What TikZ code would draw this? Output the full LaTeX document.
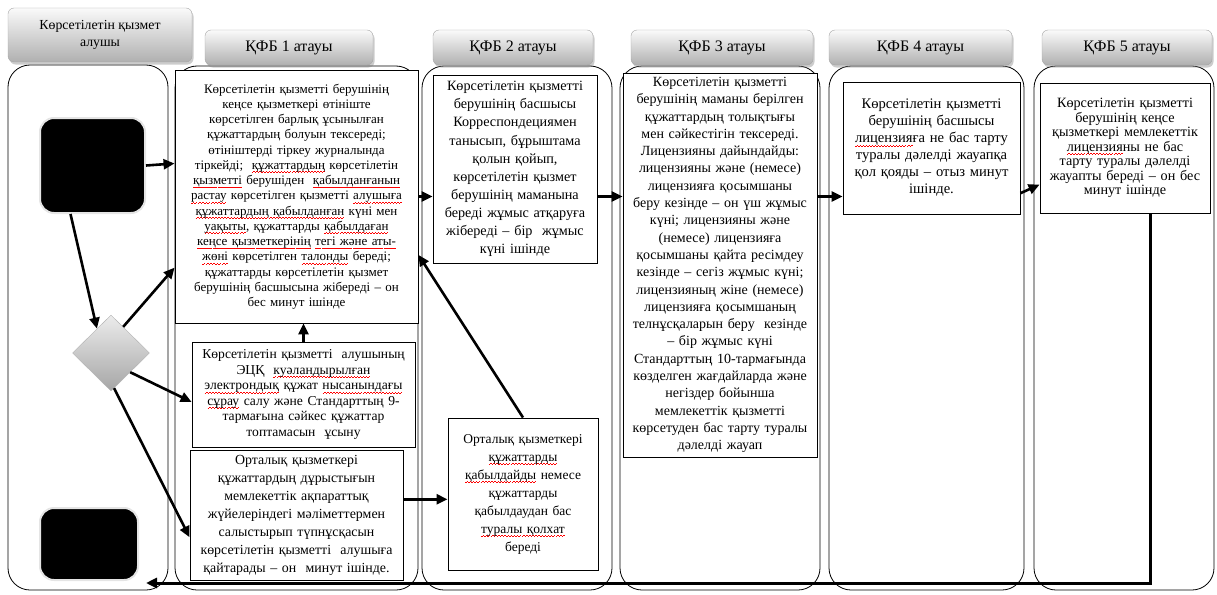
\documentclass[tikz,border=0pt]{standalone}
\usepackage{fontspec}
\setmainfont{Liberation Serif}
\usetikzlibrary{shapes.geometric,shadows,arrows.meta,calc}
% red spell-check wave under a word
\newcommand\rw[1]{\leavevmode\setbox0\hbox{#1}\rlap{\textcolor{red}{\hbox to \wd0{\xleaders\hbox to 3pt{\rule[-3.4pt]{1.5pt}{0.55pt}\rule[-2.6pt]{1.5pt}{0.55pt}}\hfill}}}\box0\relax}

\begin{document}
\begin{tikzpicture}[x=1pt,y=-1pt,
  hdr/.style={draw=gray!70,rounded corners=6pt,top color=gray!4,bottom color=gray!62,
    drop shadow={shadow xshift=1.5pt,shadow yshift=-2.5pt,opacity=0.4},
    align=center,inner sep=0pt,font=\fontsize{16}{18}\selectfont},
  lane/.style={draw,line width=0.8pt,rounded corners=22pt},
  box/.style={draw,line width=0.9pt,fill=white,align=center,inner sep=0pt},
  blk/.style={draw=gray!20,line width=2pt,fill=black,rounded corners=14pt},
  arr/.style={line width=2.6pt,-{Triangle[length=11pt,width=10pt]}}]
\useasboundingbox (0,0) rectangle (1217,594);

% lanes
\draw (88,327.5) node[lane,minimum width=160pt,minimum height=525pt](l0) {};
\draw (296.5,328) node[lane,minimum width=243pt,minimum height=524pt](l1) {};
\draw (517,328) node[lane,minimum width=190pt,minimum height=524pt](l2) {};
\draw (720,328) node[lane,minimum width=200pt,minimum height=524pt](l3) {};
\draw (926.5,328) node[lane,minimum width=195pt,minimum height=524pt](l4) {};
\draw (1124,328) node[lane,minimum width=180pt,minimum height=524pt](l5) {};

% headers
\draw (100,35) node[hdr,minimum width=184pt,minimum height=54pt,
  font=\fontsize{13.8}{17}\selectfont](h0) {Көрсетілетін қызмет\\алушы};
\draw (289,47.5) node[hdr,minimum width=168pt,minimum height=35pt](h1) {ҚФБ 1 атауы};
\draw (513,47.5) node[hdr,minimum width=160pt,minimum height=35pt](h2) {ҚФБ 2 атауы};
\draw (722,47.5) node[hdr,minimum width=182pt,minimum height=35pt](h3) {ҚФБ 3 атауы};
\draw (920.5,47.5) node[hdr,minimum width=183pt,minimum height=35pt](h4) {ҚФБ 4 атауы};
\draw (1127,47.5) node[hdr,minimum width=170pt,minimum height=35pt](h5) {ҚФБ 5 атауы};

% service receiver
\draw (92.5,165.5) node[blk,minimum width=105pt,minimum height=95pt](k1) {};
\draw (89,544) node[blk,minimum width=98pt,minimum height=72pt](k2) {};
\draw (111,353) node[diamond,draw=gray!60,top color=gray!15,bottom color=gray!70,
  inner sep=0pt,minimum width=77pt,minimum height=76pt](dm) {};

% steps
\draw (296.5,196.5) node[box,minimum width=243pt,minimum height=253pt,text width=240pt,
  font=\fontsize{13}{15.25}\selectfont](a) {Көрсетілетін қызметті берушінің\\кеңсе қызметкері өтініште\\
  көрсетілген барлық ұсынылған\\құжаттардың болуын тексереді;\\өтініштерді тіркеу журналында\\
  тіркейді;\ \ \rw{құжаттардың} көрсетілетін\\\rw{қызметті} берушіден\ \ \rw{қабылданғанын}\\
  \rw{растау} көрсетілген қызметті \rw{алушыға}\\\rw{құжаттардың қабылданған} күні мен\\
  \rw{уақыты}, құжаттарды \rw{қабылдаған}\\\rw{кеңсе қызметкерінің} \rw{тегі және аты-}\\
  \rw{жөні} көрсетілген \rw{талонды} береді;\\құжаттарды көрсетілетін қызмет\\
  берушінің басшысына жібереді – он\\бес минут ішінде};
\draw (303.5,394.5) node[box,minimum width=223pt,minimum height=105pt,text width=220pt,
  font=\fontsize{13.6}{15.6}\selectfont](b) {Көрсетілетін қызметті\ \ алушының\\ЭЦҚ\ \ \rw{куәландырылған}\\
  \rw{электрондық} құжат \rw{нысанындағы}\\\rw{сұрау} салу және Стандарттың 9-\\
  тармағына сәйкес құжаттар\\топтамасын\ \ ұсыну};
\draw (296.5,515) node[box,minimum width=213pt,minimum height=130pt,text width=210pt,
  font=\fontsize{13.9}{18}\selectfont](c) {Орталық қызметкері\\құжаттардың дұрыстығын\\
  мемлекеттік ақпараттық\\жүйелеріндегі мәліметтермен\\салыстырып түпнұсқасын\\
  көрсетілетін қызметті\ \ алушыға\\қайтарады – он\ \ минут ішінде.};
\draw (523,494) node[box,minimum width=150pt,minimum height=152pt,text width=147pt,
  font=\fontsize{13.5}{18}\selectfont](d) {Орталық қызметкері\\\rw{құжаттарды}\\\rw{қабылдайды} немесе\\
  құжаттарды\\қабылдаудан бас\\\rw{туралы қолхат}\\береді\\[8pt]};
\draw (515,169) node[box,minimum width=164pt,minimum height=188pt,text width=161pt,
  font=\fontsize{14.2}{18.1}\selectfont](e) {Көрсетілетін қызметті\\берушінің басшысы\\
  Корреспондециямен\\танысып, бұрыштама\\қолын қойып,\\көрсетілетін қызмет\\
  берушінің маманына\\береді жұмыс атқаруға\\жібереді – бір\ \ жұмыс\\күні ішінде};
\draw (720,265) node[box,minimum width=194pt,minimum height=384pt,text width=191pt,
  font=\fontsize{14}{17.3}\selectfont](f) {Көрсетілетін қызметті\\берушінің маманы берілген\\
  құжаттардың толықтығы\\мен сәйкестігін тексереді.\\Лицензияны дайындайды:\\
  лицензияны және (немесе)\\лицензияға қосымшаны\\беру кезінде – он үш жұмыс\\
  күні; лицензияны және\\(немесе) лицензияға\\қосымшаны қайта ресімдеу\\
  кезінде – сегіз жұмыс күні;\\лицензияның жіне (немесе)\\лицензияға қосымшаның\\
  телнұсқаларын беру\ \ кезінде\\– бір жұмыс күні\\Стандарттың 10-тармағында\\
  көзделген жағдайларда және\\негіздер бойынша\\мемлекеттік қызметті\\
  көрсетуден бас тарту туралы\\дәлелді жауап};
\draw (931.5,148) node[box,minimum width=177pt,minimum height=132pt,text width=174pt,
  font=\fontsize{14.6}{17}\selectfont](g) {Көрсетілетін қызметті\\берушінің басшысы\\
  \rw{лицензия}ға не бас тарту\\туралы дәлелді жауапқа\\қол қояды – отыз минут\\ішінде.\\[6pt]};
\draw (1125,148) node[box,minimum width=170pt,minimum height=130pt,text width=167pt,
  font=\fontsize{14.2}{14.5}\selectfont](h) {Көрсетілетін қызметті\\берушінің кеңсе\\
  қызметкері мемлекеттік\\\rw{лицензия}ны не бас\\тарту туралы дәлелді\\
  жауапты береді – он бес\\минут ішінде\\[10pt]};

% connectors
\draw[arr] (k1.east) -- ($(a.north west)!0.37!(a.south west)$);
\draw[arr] ([xshift=-22pt]k1.south) -- (dm.120);
\draw[arr] (dm.65) -- ($(a.north west)!0.78!(a.south west)$);
\draw[arr] (dm.-45) -- ($(b.north west)!0.57!(b.south west)$);
\draw[arr] (dm.-85) -- ($(c.north west)!0.67!(c.south west)$);
\draw[arr] (b.north) -- (b.north |- a.south);
\draw[arr] (a.east) -- (a.east -| e.west);
\draw[arr] (a.east -| e.east) -- (a.east -| f.west);
\draw[arr] (a.east -| f.east) -- (a.east -| g.west);
\draw[arr] ($(g.north east)!0.84!(g.south east)$) -- ($(h.north west)!0.78!(h.south west)$);
\coordinate (cd) at ($(c.north east)!0.38!(c.south east)$);
\draw[arr] (cd) -- (cd -| d.west);
\draw[arr] (d.north) -- ($(a.north east)!0.73!(a.south east)$);
\coordinate (hb) at ($(h.south)+(25,0)$);
\coordinate (ret) at (146,583);
\draw[arr,line width=3pt] (hb) -- (hb |- ret) -- (ret);
\end{tikzpicture}
\end{document}
